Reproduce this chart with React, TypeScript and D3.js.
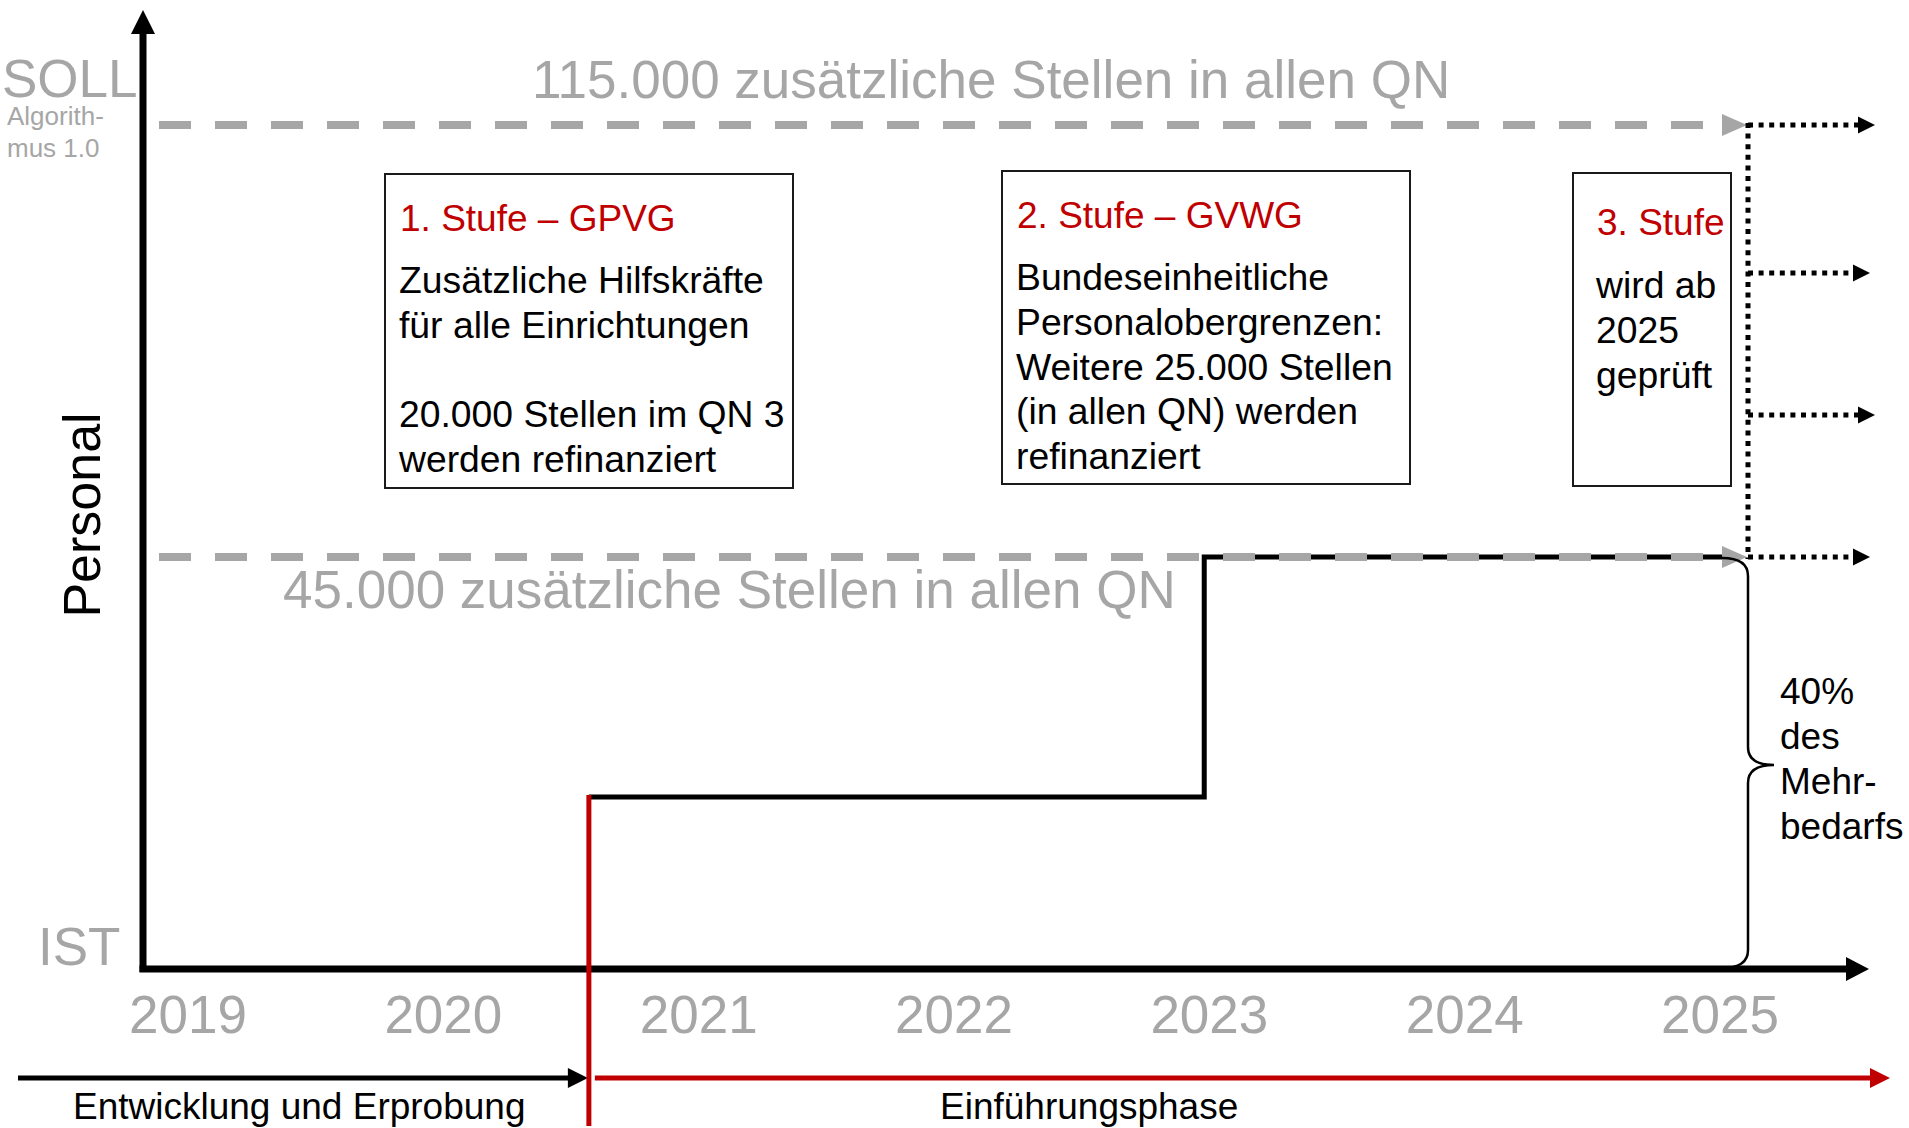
import React, { useEffect, useRef } from 'react';
import * as d3 from 'd3';

// Zeitachse
const years = [2019, 2020, 2021, 2022, 2023, 2024, 2025];

// Personal-Stufen (zusätzliche Stellen), Treppenverlauf
const stepYears = [2020.57, 2022.98, 2025.01];
const stepValues = [20000, 45000, 45000];

// Zielniveaus (gestrichelt)
const targetValues = [115000, 45000];
const targetLabels = ['115.000 zusätzliche Stellen in allen QN', '45.000 zusätzliche Stellen in allen QN'];

// mögliche Niveaus der 3. Stufe (gepunktete Pfeile)
const stage3Values = [115000, 91000, 68000, 45000];

// Phasen unten
const phaseLabels = ['Entwicklung und Erprobung', 'Einführungsphase'];
const phaseSplitYear = 2020.57;

// Textboxen der Stufen
const stageTitles = ['1. Stufe – GPVG', '2. Stufe – GVWG', '3. Stufe'];
const stageLines = [
  ['Zusätzliche Hilfskräfte', 'für alle Einrichtungen', '', '20.000 Stellen im QN 3', 'werden refinanziert'],
  ['Bundeseinheitliche', 'Personalobergrenzen:', 'Weitere 25.000 Stellen', '(in allen QN) werden', 'refinanziert'],
  ['wird ab', '2025', 'geprüft'],
];
const braceLabel = ['40%', 'des', 'Mehr-', 'bedarfs'];

const W = 1909;
const H = 1128;
const FONT = '"Liberation Sans", Arial, Helvetica, sans-serif';
const GRAY = '#a6a6a6';
const RED = '#c00000';

const App: React.FC = () => {
  const svgRef = useRef<SVGSVGElement | null>(null);

  useEffect(() => {
    if (!svgRef.current) return;
    const svg = d3.select(svgRef.current);
    svg.selectAll('*').remove();

    const x = d3.scaleLinear().domain([2019, 2025]).range([188, 1720]);
    // not to scale: piecewise levels
    const y = d3.scaleLinear().domain([0, 20000, 45000, 115000]).range([969, 797, 557, 125]);

    const axisX = 143;
    const lineEndX = 1723;
    const dotX = 1748;

    const tri = (tipX: number, tipY: number, len: number, half: number, dir: 'right' | 'up') =>
      dir === 'right'
        ? `M${tipX},${tipY}L${tipX - len},${tipY - half}L${tipX - len},${tipY + half}Z`
        : `M${tipX},${tipY}L${tipX - half},${tipY + len}L${tipX + half},${tipY + len}Z`;

    // Treppenlinie (IST-Entwicklung)
    const stepLine = d3.line<number>()
      .x((_, i) => x(stepYears[i]))
      .y(d => y(d))
      .curve(d3.curveStepAfter);
    svg.append('path')
      .attr('d', stepLine(stepValues) as string)
      .attr('fill', 'none')
      .attr('stroke', '#000')
      .attr('stroke-width', 5);

    // gestrichelte Ziellinien
    targetValues.forEach((v, i) => {
      const yy = y(v);
      svg.append('line')
        .attr('x1', 159).attr('x2', lineEndX)
        .attr('y1', yy).attr('y2', yy)
        .attr('stroke', GRAY)
        .attr('stroke-width', 8)
        .attr('stroke-dasharray', '32,24');
      svg.append('path')
        .attr('d', tri(dotX - 1, yy, 25, 11, 'right'))
        .attr('fill', GRAY);
      svg.append('text')
        .attr('x', i === 0 ? 532 : 283)
        .attr('y', i === 0 ? 98 : 608)
        .attr('fill', GRAY)
        .style('font-family', FONT)
        .style('font-size', '53px')
        .text(targetLabels[i]);
    });

    // gepunktete Pfeile (3. Stufe)
    svg.append('line')
      .attr('x1', dotX).attr('x2', dotX)
      .attr('y1', y(d3.max(stage3Values) as number) - 2)
      .attr('y2', y(d3.min(stage3Values) as number) + 2)
      .attr('stroke', '#000')
      .attr('stroke-width', 5)
      .attr('stroke-dasharray', '5,5.6');
    stage3Values.forEach((v, i) => {
      const yy = y(v);
      const tip = i % 2 === 0 ? 1875 : 1870;
      svg.append('line')
        .attr('x1', dotX).attr('x2', tip - 16)
        .attr('y1', yy).attr('y2', yy)
        .attr('stroke', '#000')
        .attr('stroke-width', 5)
        .attr('stroke-dasharray', '5,5.6');
      svg.append('path').attr('d', tri(tip, yy, 17, 8.5, 'right')).attr('fill', '#000');
    });

    // Klammer
    const by0 = y(45000) + 1;
    const by1 = y(0) - 1;
    const bm = 765;
    const bx = dotX;
    svg.append('path')
      .attr('d',
        `M${bx - 26},${by0} Q${bx},${by0} ${bx},${by0 + 18} L${bx},${bm - 18} Q${bx},${bm} ${bx + 26},${bm}` +
        ` Q${bx},${bm} ${bx},${bm + 18} L${bx},${by1 - 18} Q${bx},${by1} ${bx - 26},${by1}`)
      .attr('fill', 'none')
      .attr('stroke', '#000')
      .attr('stroke-width', 2.5);
    braceLabel.forEach((t, i) => {
      svg.append('text')
        .attr('x', 1780).attr('y', 704 + i * 45)
        .style('font-family', FONT).style('font-size', '37px')
        .text(t);
    });

    // Achsen
    svg.append('line')
      .attr('x1', axisX).attr('x2', axisX)
      .attr('y1', 972).attr('y2', 30)
      .attr('stroke', '#000').attr('stroke-width', 7);
    svg.append('path').attr('d', tri(axisX, 10, 24, 12, 'up')).attr('fill', '#000');
    svg.append('line')
      .attr('x1', axisX - 3.5).attr('x2', 1848)
      .attr('y1', y(0)).attr('y2', y(0))
      .attr('stroke', '#000').attr('stroke-width', 7);
    svg.append('path').attr('d', tri(1869, y(0), 23, 12, 'right')).attr('fill', '#000');

    // Jahreszahlen
    svg.selectAll('text.year')
      .data(years)
      .enter()
      .append('text')
      .attr('class', 'year')
      .attr('x', d => x(d))
      .attr('y', 1033)
      .attr('text-anchor', 'middle')
      .attr('fill', GRAY)
      .style('font-family', FONT)
      .style('font-size', '53px')
      .text(d => String(d));

    // SOLL / IST / Personal
    svg.append('text').attr('x', 2).attr('y', 97).attr('fill', GRAY)
      .style('font-family', FONT).style('font-size', '53px').text('SOLL');
    svg.append('text').attr('x', 7).attr('y', 125).attr('fill', GRAY)
      .style('font-family', FONT).style('font-size', '26px').text('Algorith-');
    svg.append('text').attr('x', 7).attr('y', 157).attr('fill', GRAY)
      .style('font-family', FONT).style('font-size', '26px').text('mus 1.0');
    svg.append('text').attr('x', 38).attr('y', 965).attr('fill', GRAY)
      .style('font-family', FONT).style('font-size', '53px').text('IST');
    svg.append('text')
      .attr('transform', `translate(100,515) rotate(-90)`)
      .attr('text-anchor', 'middle')
      .style('font-family', FONT).style('font-size', '52px')
      .text('Personal');

    // Phasen
    const splitX = x(phaseSplitYear);
    const phaseY = 1078;
    svg.append('line')
      .attr('x1', 18).attr('x2', splitX - 18)
      .attr('y1', phaseY).attr('y2', phaseY)
      .attr('stroke', '#000').attr('stroke-width', 5);
    svg.append('path').attr('d', tri(splitX - 1, phaseY, 20, 10, 'right')).attr('fill', '#000');
    svg.append('line')
      .attr('x1', splitX + 6).attr('x2', 1872)
      .attr('y1', phaseY).attr('y2', phaseY)
      .attr('stroke', RED).attr('stroke-width', 5);
    svg.append('path').attr('d', tri(1890, phaseY, 20, 10, 'right')).attr('fill', RED);
    svg.append('line')
      .attr('x1', splitX).attr('x2', splitX)
      .attr('y1', y(stepValues[0]) - 2).attr('y2', 1126)
      .attr('stroke', RED).attr('stroke-width', 5);
    svg.append('text').attr('x', 73).attr('y', 1119)
      .style('font-family', FONT).style('font-size', '37px').text(phaseLabels[0]);
    svg.append('text').attr('x', 940).attr('y', 1119)
      .style('font-family', FONT).style('font-size', '37px').text(phaseLabels[1]);

    // Stufen-Boxen
    const boxes = [
      { x0: 385, y0: 174, x1: 793, y1: 488, tx: 400, ty: 231, by: 293 },
      { x0: 1002, y0: 171, x1: 1410, y1: 484, tx: 1017, ty: 228, by: 290 },
      { x0: 1573, y0: 173, x1: 1731, y1: 486, tx: 1597, ty: 235, by: 298 },
    ];
    boxes.forEach((b, i) => {
      svg.append('rect')
        .attr('x', b.x0).attr('y', b.y0)
        .attr('width', b.x1 - b.x0).attr('height', b.y1 - b.y0)
        .attr('fill', '#fff')
        .attr('stroke', '#1a1a1a')
        .attr('stroke-width', 2);
      svg.append('text')
        .attr('x', b.tx).attr('y', b.ty)
        .attr('fill', RED)
        .style('font-family', FONT).style('font-size', '37px')
        .text(stageTitles[i]);
      stageLines[i].forEach((t, j) => {
        svg.append('text')
          .attr('x', b.tx - 1).attr('y', b.by + j * 44.8)
          .style('font-family', FONT).style('font-size', '37.3px')
          .text(t);
      });
    });
  }, []);

  return (
    <svg
      ref={svgRef}
      width={W}
      height={H}
      style={{ position: 'absolute', left: 0, top: 0, background: '#fff' }}
    />
  );
};

export default App;
